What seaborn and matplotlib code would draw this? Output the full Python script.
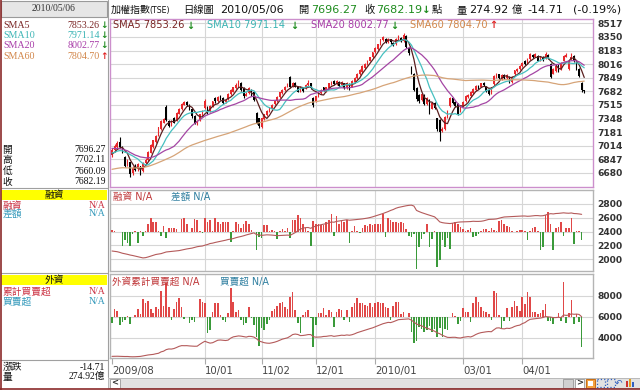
import numpy as np
import pandas as pd
import matplotlib
matplotlib.use("Agg")
import matplotlib.pyplot as plt
import seaborn as sns
from matplotlib.patches import Rectangle

# ---------------- data ----------------
# closes before the first visible day, used only to seed the moving averages
closes_before = [6650, 6700, 6720, 6780, 6830, 6870, 6800, 6760, 6700, 6640,
                 6590, 6560, 6520, 6480, 6430, 6390, 6420, 6460, 6500, 6540,
                 6500, 6450, 6400, 6340, 6300, 6260, 6240, 6300, 6400, 6480,
                 6550, 6620, 6680, 6730, 6780, 6830, 6860, 6900, 6940, 6980,
                 7010, 7050, 7080, 7040, 6990, 7020, 7060, 7090, 7040, 6990,
                 6940, 6900, 6930, 6970, 6950, 6910, 6880, 6900, 6920]

opens = [6900, 6960, 7000, 7060, 7000, 6880, 6790, 6810, 6680, 6770,
         6730, 6760, 6700, 6800, 6840, 6930, 7000, 7060, 7150, 7220,
         7300, 7490, 7320, 7270, 7350, 7330, 7410, 7460, 7520, 7550,
         7520, 7460, 7380, 7290, 7330, 7390, 7480, 7490, 7440, 7500,
         7600, 7560, 7620, 7600, 7550, 7590, 7650, 7680, 7720, 7750,
         7790, 7720, 7630, 7660, 7700, 7680, 7420, 7350, 7240, 7340,
         7390, 7440, 7470, 7530, 7560, 7610, 7660, 7700, 7740, 7860,
         7740, 7790, 7740, 7690, 7730, 7720, 7760, 7780, 7600, 7560,
         7620, 7660, 7730, 7690, 7720, 7770, 7810, 7770, 7800, 7760,
         7780, 7720, 7770, 7740, 7800, 7850, 7890, 7920, 7970, 8010,
         8060, 8100, 8160, 8200, 8260, 8310, 8330, 8290, 8320, 8280,
         8260, 8320, 8340, 8300, 8360, 8220, 7980, 7900, 7720, 7640,
         7580, 7640, 7530, 7580, 7470, 7540, 7350, 7330, 7200, 7220,
         7360, 7500, 7600, 7550, 7530, 7440, 7500, 7560, 7610, 7620,
         7660, 7700, 7750, 7740, 7790, 7740, 7700, 7660, 7770, 7860,
         7890, 7830, 7880, 7850, 7860, 7800, 7890, 7930, 7960, 7990,
         8060, 8030, 8080, 8130, 8110, 8120, 8070, 8110, 8090, 8130,
         8020, 7900, 7930, 8000, 7960, 8060, 8110, 7960, 8080, 8120,
         8040, 7960, 7790, 7696.27]

highs = [6990, 7040, 7070, 7125, 7010, 6890, 6850, 6820, 6760, 6790,
         6800, 6770, 6810, 6860, 6950, 7030, 7090, 7150, 7250, 7330,
         7360, 7510, 7330, 7330, 7370, 7430, 7480, 7540, 7570, 7560,
         7530, 7470, 7390, 7330, 7410, 7450, 7590, 7500, 7510, 7570,
         7610, 7620, 7640, 7610, 7590, 7660, 7710, 7740, 7780, 7820,
         7800, 7730, 7670, 7730, 7710, 7690, 7430, 7360, 7360, 7410,
         7450, 7490, 7530, 7580, 7620, 7680, 7710, 7750, 7780, 7870,
         7800, 7800, 7750, 7750, 7740, 7770, 7820, 7790, 7610, 7630,
         7670, 7710, 7740, 7740, 7790, 7810, 7820, 7820, 7810, 7810,
         7790, 7800, 7780, 7820, 7860, 7910, 7960, 8000, 8030, 8070,
         8110, 8170, 8230, 8270, 8330, 8360, 8340, 8340, 8330, 8290,
         8340, 8370, 8350, 8400, 8370, 8230, 7990, 7910, 7730, 7650,
         7660, 7650, 7610, 7590, 7550, 7550, 7360, 7340, 7240, 7380,
         7450, 7610, 7610, 7560, 7540, 7510, 7560, 7640, 7650, 7690,
         7720, 7760, 7760, 7790, 7800, 7750, 7710, 7740, 7880, 7910,
         7900, 7890, 7890, 7890, 7870, 7870, 7950, 7970, 8000, 8040,
         8070, 8090, 8150, 8140, 8150, 8130, 8120, 8120, 8170, 8140,
         8030, 7970, 8000, 8010, 8040, 8130, 8150, 8070, 8150, 8130,
         8050, 7970, 7800, 7702.11]

lows = [6880, 6940, 6990, 6990, 6930, 6750, 6770, 6630, 6660, 6700,
        6710, 6650, 6690, 6790, 6830, 6920, 6990, 7050, 7140, 7210,
        7290, 7320, 7240, 7260, 7290, 7320, 7400, 7450, 7510, 7500,
        7450, 7360, 7280, 7270, 7320, 7380, 7470, 7410, 7430, 7490,
        7540, 7550, 7580, 7530, 7540, 7580, 7640, 7670, 7710, 7740,
        7690, 7600, 7620, 7650, 7630, 7560, 7280, 7230, 7230, 7330,
        7380, 7430, 7460, 7520, 7550, 7600, 7650, 7690, 7730, 7720,
        7730, 7730, 7670, 7680, 7680, 7710, 7750, 7710, 7490, 7550,
        7610, 7650, 7690, 7680, 7710, 7760, 7760, 7760, 7740, 7750,
        7710, 7710, 7700, 7730, 7790, 7840, 7880, 7910, 7960, 8000,
        8050, 8090, 8150, 8190, 8250, 8300, 8280, 8280, 8270, 8240,
        8250, 8310, 8290, 8290, 8220, 8130, 7900, 7690, 7570, 7540,
        7570, 7520, 7520, 7410, 7460, 7470, 7200, 7070, 7180, 7210,
        7350, 7490, 7530, 7490, 7390, 7430, 7490, 7550, 7600, 7610,
        7650, 7690, 7710, 7730, 7750, 7680, 7640, 7650, 7760, 7850,
        7840, 7820, 7840, 7840, 7790, 7790, 7880, 7920, 7950, 7980,
        8010, 8020, 8070, 8090, 8100, 8050, 8060, 8060, 8080, 8080,
        7850, 7890, 7920, 7920, 7950, 8050, 8100, 7950, 8070, 8040,
        7950, 7860, 7680, 7660.09]

closes = [6960, 7010, 7050, 7000, 6950, 6770, 6830, 6670, 6740, 6720,
          6790, 6690, 6800, 6840, 6940, 7020, 7080, 7140, 7240, 7320,
          7340, 7330, 7260, 7320, 7300, 7420, 7470, 7530, 7550, 7510,
          7460, 7380, 7300, 7320, 7400, 7440, 7570, 7420, 7500, 7560,
          7560, 7610, 7590, 7540, 7580, 7650, 7700, 7730, 7760, 7800,
          7700, 7620, 7650, 7720, 7640, 7580, 7300, 7260, 7350, 7400,
          7440, 7480, 7520, 7570, 7610, 7670, 7700, 7740, 7760, 7730,
          7790, 7740, 7680, 7740, 7690, 7760, 7790, 7720, 7510, 7620,
          7660, 7700, 7700, 7730, 7780, 7800, 7770, 7810, 7750, 7800,
          7720, 7790, 7720, 7810, 7850, 7900, 7950, 7990, 8020, 8060,
          8100, 8160, 8220, 8260, 8320, 8350, 8290, 8330, 8290, 8250,
          8330, 8350, 8300, 8380, 8230, 8150, 7920, 7700, 7590, 7560,
          7650, 7530, 7600, 7430, 7540, 7480, 7220, 7180, 7220, 7370,
          7440, 7600, 7540, 7500, 7400, 7500, 7550, 7630, 7640, 7680,
          7710, 7750, 7720, 7780, 7760, 7690, 7650, 7730, 7870, 7900,
          7850, 7880, 7850, 7880, 7800, 7860, 7940, 7960, 7990, 8030,
          8020, 8080, 8140, 8100, 8140, 8060, 8110, 8070, 8140, 8090,
          7860, 7960, 7990, 7930, 8030, 8120, 8130, 8060, 8105, 8050,
          7960, 7877, 7697, 7682.19]

nan = float("nan")
margin_balance = [2120, 2115, 2110, 2100, 2088, 2080, 2072, 2062, 2055, 2046,
                  2036, 2028, 2020, 2024, 2034, 2046, 2058, 2070, 2076, 2082,
                  2094, 2106, 2110, 2114, 2118, 2122, 2126, 2134, 2142, 2150,
                  2156, 2162, 2172, 2182, 2188, 2192, 2204, 2214, 2228, 2234,
                  2244, 2252, 2260, 2268, 2276, 2286, 2292, 2300, 2312, 2322,
                  2330, 2340, 2352, 2362, 2372, 2382, 2358, 2352, 2346, 2350,
                  2354, 2352, 2350, 2346, 2342, 2344, 2346, 2348, 2350, 2346,
                  2366, 2386, 2412, 2436, 2450, 2458, 2460, 2448, 2468, 2480,
                  2492, 2500, 2508, 2516, 2526, 2540, 2536, 2548, 2554, 2560,
                  2566, 2572, 2565, 2568, 2572, 2576, 2580, 2584, 2590, 2596,
                  2604, 2614, 2626, 2638, 2650, 2662, 2676, 2690, 2707, 2720,
                  2738, 2750, 2758, 2766, 2774, 2780, 2783, 2770, 2707, 2690,
                  2675, 2662, 2650, 2638, 2626, 2614, 2580, 2541, 2530, 2524,
                  2520, 2517, 2522, 2530, 2536, 2540, 2541, 2542, 2544, 2546,
                  2550, 2548, 2548, 2550, 2556, 2566, 2577, 2578, 2580, 2584,
                  2594, 2604, 2612, 2614, 2616, 2618, 2620, 2622, 2624, 2626,
                  2626, 2622, 2624, 2628, 2632, 2632, 2628, 2630, 2640, 2652,
                  2660, 2656, 2662, 2664, 2668, 2672, 2668, 2666, 2670, 2662,
                  2660, 2656, 2650, nan]

margin_change = [3, 1, -1, -1, -21, -13, -17, -21, -4, 1,
                 -17, 1, -6, 1, 11, 20, 15, 15, 1, -6,
                 9, -9, 6, 5, 5, 4, 0, 19, 20, 11,
                 -1, 6, 19, 17, 1, -2, 20, 14, 17, 1,
                 21, 14, 11, 14, 15, 14, -16, 1, 14, 11,
                 6, 12, 16, 12, 2, 0, -28, -8, -9, 10,
                 10, 1, 3, 1, -11, 1, 4, 1, 6, -10,
                 17, 17, 25, 21, 11, 6, 1, -22, 16, 11,
                 12, 10, 10, 15, 17, 26, -6, 24, 12, 16,
                 14, 17, -17, 1, 9, 1, -2, 6, 10, 9,
                 12, 10, 11, 11, 11, 27, -8, 21, 17, 14,
                 14, 13, 14, 13, 4, -6, -8, -4, -56, -23,
                 -11, -4, 11, -23, -11, 1, -53, -43, -13, -23,
                 -9, -26, 13, 15, 12, 7, 4, 1, 3, 5,
                 -8, -7, -4, 1, 4, 4, 1, 6, 2, 1,
                 16, 17, 11, 9, 7, 1, 0, 1, 2, 2,
                 1, -12, 1, 5, 7, 1, -28, -23, 25, 30,
                 12, -28, 6, 7, 14, -7, 6, 6, 21, -18,
                 1, 1, -13, nan]

foreign_net = [-30, 40, 33, -38, -22, -13, 7, -33, 0, 12,
               40, 17, 90, 73, 83, 40, 23, 53, 40, 133,
               57, 170, 50, -13, 40, 78, 95, 50, -10, 3,
               -27, -13, -22, 2, 90, 78, 70, -80, -63, 28,
               70, 70, 12, -13, -22, 23, 145, 78, 28, 37,
               -13, -38, -27, 50, -5, -38, -97, -143, -55, -63,
               -33, -13, 33, 40, 57, 70, 78, 53, 40, 100,
               128, 37, -30, -77, 12, 28, 37, -2, -147, -38,
               20, 23, 45, 12, 37, 28, -47, 28, 40, 37,
               -13, 37, -22, 50, 73, 95, 70, 73, 62, 57,
               70, 50, 70, 78, 73, 70, 53, 45, -13, 57,
               75, 75, 17, 25, 0, 20, -75, -130, -120, -50,
               -58, -75, -63, -42, -75, -58, -100, -53, -100, -58,
               -63, 0, 20, 8, -33, -17, 47, 25, 25, -25,
               70, 100, 75, 50, 33, 25, 17, -13, 133, 120,
               10, -53, -17, 47, -17, 53, 83, 58, 33, 103,
               67, 125, 100, 25, 25, 17, 20, 37, 67, -17,
               -20, -33, 0, 20, -20, 175, -30, 20, 85, -33,
               15, -25, -150, nan]

foreign_cum = [2210, 2216, 2222, 2212, 2202, 2195, 2198, 2178, 2170, 2176,
               2196, 2206, 2255, 2300, 2345, 2375, 2400, 2460, 2505, 2640,
               2710, 2856, 2920, 2910, 2960, 3060, 3173, 3240, 3232, 3236,
               3210, 3198, 3180, 3185, 3360, 3520, 3660, 3560, 3480, 3520,
               3640, 3760, 3780, 3760, 3730, 3770, 3960, 4080, 4120, 4170,
               4150, 4100, 4060, 4130, 4120, 4060, 3900, 3680, 3600, 3520,
               3480, 3465, 3510, 3570, 3650, 3750, 3860, 3930, 3990, 4130,
               4300, 4350, 4310, 4200, 4215, 4250, 4300, 4300, 4100, 4050,
               4060, 4075, 4120, 4130, 4170, 4195, 4130, 4160, 4200, 4240,
               4220, 4265, 4235, 4285, 4370, 4480, 4560, 4650, 4725, 4790,
               4875, 4945, 5040, 5145, 5245, 5340, 5410, 5470, 5450, 5530,
               5630, 5730, 5750, 5780, 5780, 5805, 5687, 5494, 5311, 5228,
               5135, 5012, 4909, 4836, 4718, 4625, 4472, 4384, 4231, 4138,
               4035, 4022, 4039, 4040, 3990, 3970, 4035, 4070, 4105, 4070,
               4170, 4310, 4415, 4485, 4530, 4565, 4590, 4570, 4760, 4930,
               4945, 4870, 4845, 4910, 4885, 4960, 5080, 5160, 5205, 5350,
               5445, 5620, 5760, 5795, 5830, 5855, 5880, 5935, 6030, 6005,
               5975, 5930, 5930, 5960, 5930, 6180, 6140, 6170, 6290, 6245,
               6265, 6230, 6015, nan]

price_ticks = [6680, 6847, 7014, 7181, 7348, 7515, 7682, 7849, 8016, 8183, 8350, 8517]
margin_ticks = [2000, 2200, 2400, 2600, 2800]
foreign_ticks = [4000, 6000, 8000]
month_pos = [0, 36, 58, 79, 102, 136, 159]
month_labels = ["2009/08", "10/01", "11/02", "12/01", "2010/01", "03/01", "04/01"]

sma_periods = [5, 10, 20, 60]
sma_names = ["SMA5", "SMA10", "SMA20", "SMA60"]
sma_last = ["7853.26", "7971.14", "8002.77", "7804.70"]
sma_up = [False, False, False, True]
ohlc_labels = ["開", "高", "低", "收"]
ohlc_values = ["7696.27", "7702.11", "7660.09", "7682.19"]

for nm, arr in [("opens", opens), ("highs", highs), ("lows", lows),
                ("margin_balance", margin_balance), ("margin_change", margin_change),
                ("foreign_net", foreign_net), ("foreign_cum", foreign_cum)]:
    if len(arr) != len(closes):
        raise ValueError(f"{nm}: {len(arr)} != {len(closes)}")

# ---------------- style ----------------
sns.set_theme(style="white")
CJK = "Noto Sans CJK TC"
plt.rcParams["font.family"] = ["DejaVu Sans", CJK]
SERIF = ["Liberation Serif", CJK]
MIX = ["DejaVu Sans", CJK]

SMA_LINE = ["#5a1f1f", "#46c0c0", "#a446a4", "#d6a478"]
SMA_TEXT = ["#7a2424", "#3bb4b4", "#a83ca8", "#d2864a"]
UPC, DNC = "#e02222", "#1e8c1e"
CANDLE_UP = "#e8282c"
BAR_R, BAR_G = "#e04848", "#3a9a3a"
LINE_C = "#b45a5a"
GRID = "#d6d6d6"
TICKC = "#333333"

W, H = 640, 390
fig = plt.figure(figsize=(W / 100, H / 100), dpi=100)
fig.patch.set_facecolor("white")


def px_axes(x0, y0, x1, y1):
    return fig.add_axes([x0 / W, 1 - y1 / H, (x1 - x0) / W, (y1 - y0) / H])


n = len(closes)
day = np.arange(n)
XLIM = (-0.78, 186.4)


def style_panel(ax, ylim, yticks, spine_color):
    ax.set_xlim(*XLIM)
    ax.set_ylim(*ylim)
    ax.yaxis.tick_right()
    ax.set_yticks(yticks, labels=[str(v) for v in yticks], fontsize=6.6,
                  fontweight="bold", color=TICKC, family="DejaVu Sans")
    ax.tick_params(axis="y", length=0, pad=3.2, right=False, left=False)
    ax.grid(True, axis="y", color=GRID, lw=0.8)
    ax.grid(False, axis="x")
    for g in month_pos[1:]:
        ax.axvline(g, color=GRID, lw=0.8, zorder=0.5)
    ax.set_axisbelow(True)
    for s in ax.spines.values():
        s.set_visible(True)
        s.set_color(spine_color)
        s.set_linewidth(1.0)
    ax.set_xlabel("")
    ax.set_ylabel("")


def clean_twin(a, ylim):
    a.set_xlim(*XLIM)
    a.set_ylim(*ylim)
    a.set_yticks([])
    a.set_ylabel("")
    for s in a.spines.values():
        s.set_visible(False)


# ---------------- price panel ----------------
axp = px_axes(110, 19, 593, 187)
o = np.asarray(opens, float)
c = np.asarray(closes, float)
hi = np.asarray(highs, float)
lo = np.asarray(lows, float)
cols = np.where(c >= o, CANDLE_UP, "#000000")
axp.vlines(day, lo, hi, colors=cols, lw=0.8, zorder=2)
axp.bar(day, np.maximum(np.abs(c - o), 10), bottom=np.minimum(o, c), width=0.64,
        color=cols, linewidth=0, zorder=3)
allc = pd.Series(list(closes_before) + list(closes), dtype=float)
for p, colr in zip(sma_periods, SMA_LINE):
    s = allc.rolling(p).mean().to_numpy()[len(closes_before):]
    sns.lineplot(x=day, y=s, ax=axp, color=colr, linewidth=0.9, zorder=4)
style_panel(axp, (6508, 8571), price_ticks, "#cc8fcc")
axp.set_xticks([])

# ---------------- margin panel ----------------
axm = px_axes(110, 190, 593, 271)
axm_b = axm.twinx()
axm_l = axm.twinx()
mc = np.asarray(margin_change, float)
ok = ~np.isnan(mc)
axm_b.bar(day[ok], mc[ok], width=0.62, color=np.where(mc[ok] >= 0, BAR_R, BAR_G), linewidth=0)
mb = np.asarray(margin_balance, float)
okl = ~np.isnan(mb)
sns.lineplot(x=day[okl], y=mb[okl], ax=axm_l, color=LINE_C, linewidth=0.8)
clean_twin(axm_b, (-59, 62.6))
clean_twin(axm_l, (1831, 3002))
style_panel(axm, (1831, 3002), margin_ticks, "#b4b4b4")
axm.set_xticks([])

# ---------------- foreign panel ----------------
axf = px_axes(110, 274, 593, 358)
axf_b = axf.twinx()
axf_l = axf.twinx()
fn = np.asarray(foreign_net, float)
ok = ~np.isnan(fn)
axf_b.bar(day[ok], fn[ok], width=0.62, color=np.where(fn[ok] >= 0, BAR_R, BAR_G), linewidth=0)
fc = np.asarray(foreign_cum, float)
okl = ~np.isnan(fc)
sns.lineplot(x=day[okl], y=fc[okl], ax=axf_l, color=LINE_C, linewidth=0.8)
clean_twin(axf_b, (-203.5, 216.5))
clean_twin(axf_l, (2053, 10110))
style_panel(axf, (2053, 10110), foreign_ticks, "#b4b4b4")
axf.set_xticks(month_pos, labels=month_labels, fontsize=7.3, color="#444444",
               ha="left", family="DejaVu Sans")
axf.tick_params(axis="x", bottom=True, length=4.5, width=0.8, color="#aaaaaa",
                pad=1.5, direction="out")

# ---------------- overlay: texts, left info panel, bottom bar ----------------
ov = fig.add_axes([0, 0, 1, 1])
ov.set_xlim(0, W)
ov.set_ylim(H, 0)
ov.axis("off")

# title
TY = 10
title_pieces = [
    ("加權指數", 110.5, "#111111", [CJK], 7.2, "normal"),
    ("(TSE)", 149, "#111111", ["DejaVu Sans"], 5.6, "normal"),
    ("日線圖", 183, "#111111", [CJK], 7.4, "normal"),
    ("2010/05/06", 220, "#111111", ["DejaVu Sans"], 8.0, "normal"),
    ("開", 298.5, "#111111", [CJK], 7.4, "normal"),
    ("7696.27", 311, DNC, ["DejaVu Sans"], 8.0, "normal"),
    ("收", 364.5, "#111111", [CJK], 7.4, "normal"),
    ("7682.19", 376.5, DNC, ["DejaVu Sans"], 8.0, "normal"),
    ("↓", 422, DNC, ["DejaVu Sans"], 7.5, "bold"),
    ("點", 431.5, "#111111", [CJK], 7.4, "normal"),
    ("量", 456.5, "#111111", [CJK], 7.4, "normal"),
    ("274.92", 469.5, "#111111", ["DejaVu Sans"], 8.0, "normal"),
    ("億", 512, "#111111", [CJK], 7.4, "normal"),
    ("-14.71", 527.5, "#111111", ["DejaVu Sans"], 8.0, "normal"),
    ("(-0.19%)", 572.5, "#111111", ["DejaVu Sans"], 8.0, "normal"),
]
for txt, x, colr, fam, fs, fw in title_pieces:
    ov.text(x, TY, txt, color=colr, family=fam, fontsize=fs, fontweight=fw,
            ha="left", va="center")

# SMA legend inside the price panel
leg_x = [113, 207, 311, 410]
arr_x = [186.5, 290.5, 390, 489.5]
for nm, val, up, colr, x, ax_ in zip(sma_names, sma_last, sma_up, SMA_TEXT, leg_x, arr_x):
    ov.text(x, 25.5, f"{nm} {val}", color=colr, fontsize=7.1, ha="left", va="center",
            family="DejaVu Sans")
    ov.text(ax_, 25.5, "↑" if up else "↓", color=UPC if up else DNC, fontsize=7,
            fontweight="bold", ha="left", va="center", family="DejaVu Sans")

# legends in lower panels
ov.text(113, 196.5, "融資 N/A", color="#c0393b", fontsize=6.9, family=MIX, ha="left", va="center")
ov.text(171, 196.5, "差額 N/A", color="#2f7fa0", fontsize=6.9, family=MIX, ha="left", va="center")
ov.text(111.5, 281.5, "外資累計買賣超 N/A", color="#c0393b", fontsize=6.9, family=MIX,
        ha="left", va="center")
ov.text(220, 281.5, "買賣超 N/A", color="#2f7fa0", fontsize=6.9, family=MIX,
        ha="left", va="center")

# left info panel
ov.add_patch(Rectangle((1, 0.5), 106, 16.5, fc="#e6e6e6", ec="#9a9a9a", lw=0.8))
ov.text(54, 8.5, "2010/05/06", ha="center", va="center", fontsize=6.9, family=SERIF,
        color="#333333")
for nm, val, up, colr, y in zip(sma_names, sma_last, sma_up, SMA_TEXT, [25, 35.5, 46, 56.5]):
    ov.text(3, y, nm, color=colr, fontsize=7.2, family=SERIF, ha="left", va="center")
    ov.text(99.5, y, val, color=colr, fontsize=7.2, family=SERIF, ha="right", va="center")
    ov.text(100.3, y, "↑" if up else "↓", color=UPC if up else DNC, fontsize=6.5,
            fontweight="bold", family="DejaVu Sans", ha="left", va="center")
for lab, val, y in zip(ohlc_labels, ohlc_values, [149.5, 160, 171, 181.5]):
    ov.text(2.5, y, lab, color="#111111", fontsize=7, family=[CJK], ha="left", va="center")
    ov.text(105.5, y, val, color="#111111", fontsize=7, family=SERIF, ha="right", va="center")

for yy in [187.5, 272.5, 359.5]:
    ov.plot([0.5, 107.5], [yy, yy], color="#a0a0a0", lw=0.8)
ov.plot([107.5, 107.5], [0, 377], color="#a0a0a0", lw=0.8)

ov.add_patch(Rectangle((1, 190), 106, 10, fc="#ffff00", ec="none"))
ov.text(54, 195, "融資", color="#111111", fontsize=7, family=[CJK], ha="center", va="center")
ov.text(2.5, 205.5, "融資", color="#cc3344", fontsize=7, family=[CJK], ha="left", va="center")
ov.text(105.5, 205.5, "N/A", color="#cc3344", fontsize=7, family=SERIF, ha="right", va="center")
ov.text(2.5, 214, "差額", color="#3399bb", fontsize=7, family=[CJK], ha="left", va="center")
ov.text(105.5, 214, "N/A", color="#3399bb", fontsize=7, family=SERIF, ha="right", va="center")

ov.add_patch(Rectangle((1, 275), 106, 10, fc="#ffff00", ec="none"))
ov.text(54, 280, "外資", color="#111111", fontsize=7, family=[CJK], ha="center", va="center")
ov.text(2.5, 291.5, "累計買賣超", color="#cc3344", fontsize=7, family=[CJK], ha="left", va="center")
ov.text(105.5, 291.5, "N/A", color="#cc3344", fontsize=7, family=SERIF, ha="right", va="center")
ov.text(2.5, 302, "買賣超", color="#3399bb", fontsize=7, family=[CJK], ha="left", va="center")
ov.text(105.5, 302, "N/A", color="#3399bb", fontsize=7, family=SERIF, ha="right", va="center")

ov.text(2.5, 367, "漲跌", color="#111111", fontsize=7, family=[CJK], ha="left", va="center")
ov.text(105.5, 367, "-14.71", color="#111111", fontsize=7, family=SERIF, ha="right", va="center")
ov.text(2.5, 377, "量", color="#111111", fontsize=7, family=[CJK], ha="left", va="center")
ov.text(105.5, 377, "274.92億", color="#111111", fontsize=7, family=SERIF, ha="right", va="center")

# bottom scroll bar and icons
ov.add_patch(Rectangle((108, 377.5), 532, 10.5, fc="#e2e2e2", ec="#b0b0b0", lw=0.6))
ov.add_patch(Rectangle((110, 378.5), 10, 9, fc="white", ec="#999999", lw=0.6))
ov.text(115, 383, "<", fontsize=6, fontweight="bold", ha="center", va="center", color="#333333")
ov.add_patch(Rectangle((563, 378.5), 10, 9, fc="#d0d0d0", ec="#999999", lw=0.6))
ov.add_patch(Rectangle((575, 378.5), 9, 9, fc="white", ec="#999999", lw=0.6))
ov.text(579.5, 383, ">", fontsize=6, fontweight="bold", ha="center", va="center", color="#333333")
ov.add_patch(Rectangle((586, 378.5), 9, 9, fc="#f4a040", ec="#c06000", lw=0.6))
ov.add_patch(Rectangle((588, 380.5), 5, 5, fc="white", ec="none"))
for xx in (597, 607):
    ov.add_patch(Rectangle((xx, 379), 8, 8, fill=False, ec="#3060c0", ls=":", lw=0.9))
ov.text(619, 383, "↶", fontsize=6.5, color="#3060c0", ha="center", va="center", family="DejaVu Sans")
ov.add_patch(Rectangle((626, 381), 2, 6, fc="#d03030", ec="none"))
ov.add_patch(Rectangle((629, 379), 2, 8, fc="#e0a020", ec="none"))
ov.add_patch(Rectangle((632, 382), 2, 5, fc="#3060c0", ec="none"))

# window border
ov.plot([0.6, 0.6], [0, H], color="#8b2a2a", lw=1.2)
ov.plot([0, W], [389.3, 389.3], color="#8b2a2a", lw=1.2)

fig.savefig("out.png", dpi=100, facecolor="white")
